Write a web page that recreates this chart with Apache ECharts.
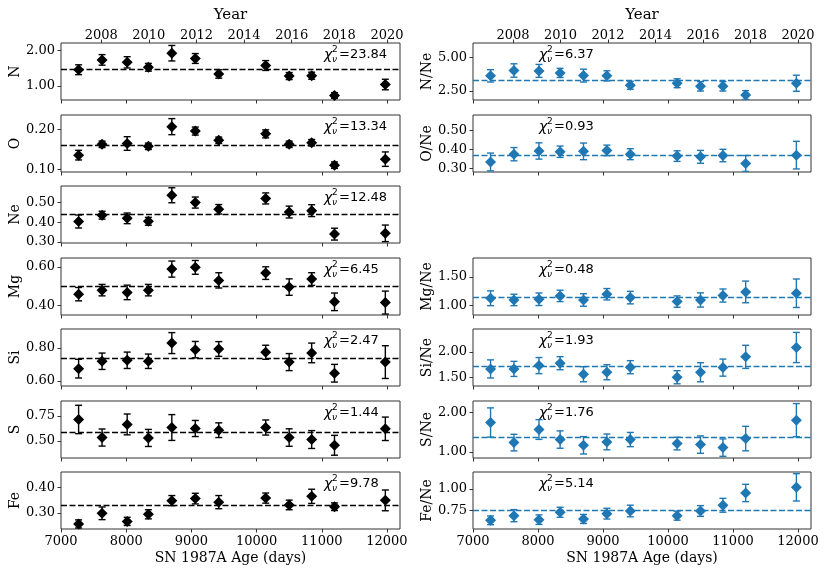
<!DOCTYPE html>
<html><head><meta charset="utf-8">
<script src="https://cdn.jsdelivr.net/npm/echarts@6/dist/echarts.min.js"></script>
<style>html,body{margin:0;padding:0;background:#fff}#c{width:830px;height:571px}</style>
</head><body><div id="c"></div>
<script>
// ---- data ----
const days = [7270, 7630, 8015, 8340, 8700, 9060, 9420, 10140, 10500, 10845, 11195, 11975];
const dayTicks = [7000, 8000, 9000, 10000, 11000, 12000];
const yearTicks = [2008, 2010, 2012, 2014, 2016, 2018, 2020];

const N_val = [1.46, 1.74, 1.67, 1.53, 1.93, 1.78, 1.34, 1.58, 1.28, 1.29, 0.73, 1.04];
const N_err = [0.14, 0.15, 0.16, 0.11, 0.22, 0.14, 0.12, 0.14, 0.10, 0.10, 0.08, 0.15];
const O_val = [0.136, 0.163, 0.165, 0.158, 0.207, 0.196, 0.173, 0.189, 0.163, 0.167, 0.111, 0.126];
const O_err = [0.012, 0.008, 0.017, 0.008, 0.020, 0.010, 0.008, 0.010, 0.008, 0.008, 0.008, 0.018];
const Ne_val = [0.404, 0.436, 0.420, 0.405, 0.537, 0.500, 0.466, 0.521, 0.452, 0.459, 0.340, 0.344];
const Ne_err = [0.033, 0.020, 0.027, 0.020, 0.038, 0.028, 0.024, 0.028, 0.030, 0.030, 0.030, 0.042];
const Mg_val = [0.458, 0.479, 0.467, 0.479, 0.589, 0.598, 0.530, 0.568, 0.495, 0.537, 0.418, 0.414];
const Mg_err = [0.035, 0.030, 0.038, 0.030, 0.042, 0.036, 0.040, 0.033, 0.043, 0.033, 0.046, 0.060];
const Si_val = [0.674, 0.719, 0.725, 0.719, 0.830, 0.790, 0.794, 0.774, 0.714, 0.770, 0.646, 0.714];
const Si_err = [0.057, 0.050, 0.050, 0.044, 0.064, 0.050, 0.045, 0.043, 0.052, 0.060, 0.054, 0.100];
const S_val = [0.716, 0.534, 0.666, 0.530, 0.635, 0.625, 0.608, 0.635, 0.534, 0.514, 0.456, 0.622];
const S_err = [0.143, 0.086, 0.105, 0.086, 0.130, 0.081, 0.074, 0.076, 0.088, 0.090, 0.100, 0.118];
const Fe_val = [0.257, 0.299, 0.267, 0.295, 0.349, 0.357, 0.343, 0.359, 0.332, 0.366, 0.325, 0.350];
const Fe_err = [0.016, 0.025, 0.016, 0.018, 0.020, 0.021, 0.026, 0.020, 0.019, 0.028, 0.015, 0.041];

const NNe_val = [3.63, 4.03, 4.00, 3.85, 3.65, 3.63, 2.93, 3.08, 2.85, 2.85, 2.20, 3.08];
const NNe_err = [0.46, 0.50, 0.48, 0.34, 0.48, 0.38, 0.30, 0.33, 0.35, 0.35, 0.33, 0.60];
const ONe_val = [0.335, 0.376, 0.393, 0.389, 0.391, 0.396, 0.376, 0.366, 0.362, 0.369, 0.327, 0.371];
const ONe_err = [0.047, 0.035, 0.043, 0.030, 0.044, 0.028, 0.029, 0.028, 0.034, 0.033, 0.042, 0.073];
const MgNe_val = [1.124, 1.094, 1.106, 1.165, 1.094, 1.194, 1.135, 1.065, 1.094, 1.171, 1.235, 1.212];
const MgNe_err = [0.13, 0.10, 0.11, 0.10, 0.11, 0.10, 0.11, 0.10, 0.125, 0.115, 0.19, 0.25];
const SiNe_val = [1.666, 1.666, 1.732, 1.780, 1.560, 1.600, 1.700, 1.500, 1.600, 1.692, 1.906, 2.092];
const SiNe_err = [0.18, 0.15, 0.16, 0.13, 0.15, 0.15, 0.13, 0.13, 0.19, 0.17, 0.23, 0.30];
const SNe_val = [1.746, 1.237, 1.568, 1.314, 1.169, 1.254, 1.314, 1.212, 1.186, 1.110, 1.339, 1.805];
const SNe_err = [0.37, 0.21, 0.25, 0.22, 0.22, 0.20, 0.18, 0.16, 0.22, 0.22, 0.31, 0.42];
const FeNe_val = [0.638, 0.692, 0.646, 0.731, 0.654, 0.715, 0.746, 0.692, 0.746, 0.812, 0.954, 1.019];
const FeNe_err = [0.050, 0.070, 0.055, 0.058, 0.052, 0.062, 0.067, 0.052, 0.062, 0.080, 0.100, 0.158];

const leftNames = ['N', 'O', 'Ne', 'Mg', 'Si', 'S', 'Fe'];
const leftVals = [N_val, O_val, Ne_val, Mg_val, Si_val, S_val, Fe_val];
const leftErrs = [N_err, O_err, Ne_err, Mg_err, Si_err, S_err, Fe_err];
const leftMeans = [1.457, 0.163, 0.441, 0.502, 0.740, 0.595, 0.325];
const leftChi = ['23.84', '13.34', '12.48', '6.45', '2.47', '1.44', '9.78'];
const leftYMin = [0.60, 0.094, 0.295, 0.349, 0.568, 0.328, 0.237];
const leftYMax = [2.22, 0.236, 0.584, 0.647, 0.916, 0.902, 0.462];
const leftYTicks = [[1, 2], [0.1, 0.2], [0.3, 0.4, 0.5], [0.4, 0.6], [0.6, 0.8], [0.5, 0.75], [0.3, 0.4]];

const rightNames = ['N/Ne', 'O/Ne', 'Mg/Ne', 'Si/Ne', 'S/Ne', 'Fe/Ne'];
const rightRows = [0, 1, 3, 4, 5, 6];
const rightVals = [NNe_val, ONe_val, MgNe_val, SiNe_val, SNe_val, FeNe_val];
const rightErrs = [NNe_err, ONe_err, MgNe_err, SiNe_err, SNe_err, FeNe_err];
const rightMeans = [3.33, 0.373, 1.141, 1.706, 1.356, 0.752];
const rightChi = ['6.37', '0.93', '0.48', '1.93', '1.76', '5.14'];
const rightYMin = [1.83, 0.282, 0.83, 1.326, 0.847, 0.538];
const rightYMax = [6.08, 0.583, 1.83, 2.46, 2.29, 1.196];
const rightYTicks = [[2.5, 5], [0.3, 0.4, 0.5], [1, 1.5], [1.5, 2], [1, 2], [0.75, 1]];

// ---- layout ----
const DAY_MIN = 7000, DAY_MAX = 12200;
const EXPLOSION_YEAR = 1987.146;
const rowTops = [43, 115, 186, 258, 329, 401, 472];
const panelH = 57;
const colLeft = [61, 473];
const colW = [339, 338];
const serif = "'DejaVu Serif', serif";
const sans = "'DejaVu Sans', sans-serif";
const frameColor = '#333';
const colors = ['#000000', '#1f77b4'];

const grids = [], xAxes = [], yAxes = [], series = [], graphics = [];

function addPanel(col, row, name, vals, errs, mean, chi, ymin, ymax, yticks, isTop, isBottom) {
  const gi = grids.length;
  const color = colors[col];
  grids.push({left: colLeft[col], top: rowTops[row], width: colW[col], height: panelH,
    show: true, borderColor: frameColor, borderWidth: 1, backgroundColor: 'transparent'});
  xAxes.push({type: 'value', gridIndex: gi, min: DAY_MIN, max: DAY_MAX, position: 'bottom',
    axisLine: {show: false}, splitLine: {show: false},
    axisTick: {show: true, length: 3.5, lineStyle: {color: frameColor}, customValues: dayTicks},
    axisLabel: {show: isBottom, customValues: dayTicks, formatter: v => String(Math.round(v)),
      fontFamily: serif, fontSize: 13, color: '#000', margin: 6},
    name: isBottom ? 'SN 1987A Age (days)' : '', nameLocation: 'middle', nameGap: 22,
    nameTextStyle: {fontFamily: serif, fontSize: 14, color: '#000'}});
  if (isTop) {
    xAxes.push({type: 'value', gridIndex: gi, position: 'top',
      min: EXPLOSION_YEAR + DAY_MIN / 365.25, max: EXPLOSION_YEAR + DAY_MAX / 365.25,
      axisLine: {show: false}, splitLine: {show: false},
      axisTick: {show: true, length: 3.5, lineStyle: {color: frameColor}, customValues: yearTicks},
      axisLabel: {show: true, customValues: yearTicks, formatter: v => String(Math.round(v)),
        fontFamily: serif, fontSize: 13, color: '#000', margin: 1},
      name: 'Year', nameLocation: 'middle', nameGap: 20,
      nameTextStyle: {fontFamily: serif, fontSize: 15, color: '#000'}});
  }
  yAxes.push({type: 'value', gridIndex: gi, min: ymin, max: ymax,
    axisLine: {show: false}, splitLine: {show: false},
    axisTick: {show: true, length: 3.5, lineStyle: {color: frameColor}, customValues: yticks},
    axisLabel: {customValues: yticks, formatter: v => v.toFixed(2), fontFamily: serif, fontSize: 13, color: '#000', margin: 6},
    name: name, nameLocation: 'middle', nameRotate: 90, nameGap: 39,
    nameTextStyle: {fontFamily: serif, fontSize: 14, color: '#000'}});
  const xi = xAxes.length - (isTop ? 2 : 1);
  const data = days.map((d, i) => [d, vals[i], errs[i]]);
  series.push({type: 'custom', xAxisIndex: xi, yAxisIndex: gi, data: data, clip: true, z: 2,
    encode: {x: 0, y: 1},
    renderItem: (params, api) => {
      const x = api.value(0), y = api.value(1), e = api.value(2);
      const t = api.coord([x, y + e]), b = api.coord([x, y - e]);
      const hw = 3.5, st = {stroke: color, lineWidth: 1.4};
      return {type: 'group', children: [
        {type: 'line', shape: {x1: t[0], y1: t[1], x2: b[0], y2: b[1]}, style: st},
        {type: 'line', shape: {x1: t[0] - hw, y1: t[1], x2: t[0] + hw, y2: t[1]}, style: st},
        {type: 'line', shape: {x1: b[0] - hw, y1: b[1], x2: b[0] + hw, y2: b[1]}, style: st}
      ]};
    },
    markLine: {silent: true, symbol: ['none', 'none'], label: {show: false},
      lineStyle: {color: color, type: [6, 2.5], width: 1.3}, data: [{yAxis: mean}]}
  });
  series.push({type: 'scatter', xAxisIndex: xi, yAxisIndex: gi, z: 5,
    data: days.map((d, i) => [d, vals[i]]), symbol: 'diamond', symbolSize: 11,
    itemStyle: {color: color, opacity: 1}});
  // chi-square label
  const x0 = col === 0 ? colLeft[col] + 263 : colLeft[col] + 66;
  const yc = rowTops[row] + 12;
  graphics.push(
    {type: 'text', x: x0, y: yc, style: {text: 'χ', font: 'italic 14px ' + sans, fill: '#000', textVerticalAlign: 'middle'}},
    {type: 'text', x: x0 + 8, y: yc - 5, style: {text: '2', font: '9px ' + sans, fill: '#000', textVerticalAlign: 'middle'}},
    {type: 'text', x: x0 + 8, y: yc + 5, style: {text: 'ν', font: 'italic 9px ' + sans, fill: '#000', textVerticalAlign: 'middle'}},
    {type: 'text', x: x0 + 15, y: yc, style: {text: '=' + chi, font: '13px ' + sans, fill: '#000', textVerticalAlign: 'middle'}}
  );
}

leftNames.forEach((n, i) => addPanel(0, i, n, leftVals[i], leftErrs[i], leftMeans[i], leftChi[i],
  leftYMin[i], leftYMax[i], leftYTicks[i], i === 0, i === leftNames.length - 1));
rightNames.forEach((n, i) => addPanel(1, rightRows[i], n, rightVals[i], rightErrs[i], rightMeans[i], rightChi[i],
  rightYMin[i], rightYMax[i], rightYTicks[i], i === 0, i === rightNames.length - 1));

const chart = echarts.init(document.getElementById('c'), null, {renderer: 'canvas'});
chart.setOption({animation: false, backgroundColor: '#fff',
  grid: grids, xAxis: xAxes, yAxis: yAxes, series: series, graphic: graphics});
</script>
</body></html>
